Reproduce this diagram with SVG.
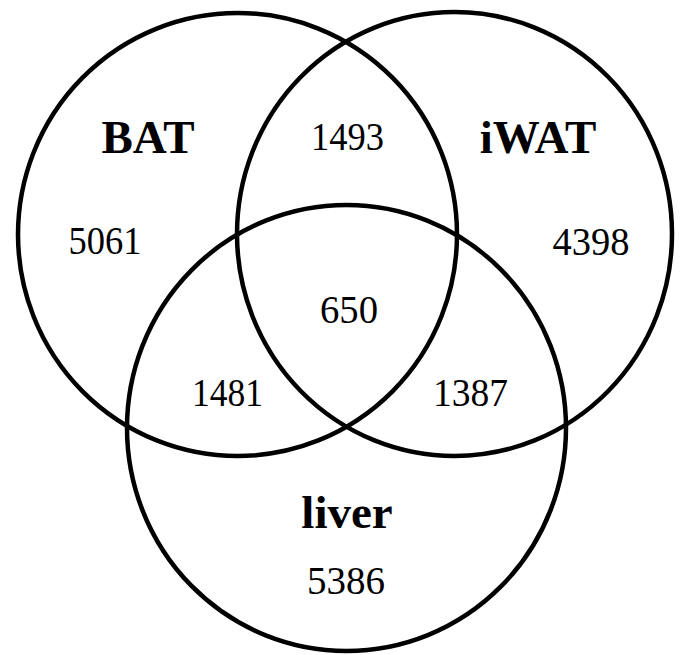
<svg xmlns="http://www.w3.org/2000/svg" width="681" height="655" viewBox="0 0 681 655">
<style>
.c{fill:none;stroke:#000;stroke-width:4.5}
.lbl{font-family:"Liberation Serif","Times New Roman",serif;font-weight:bold;font-size:47px;text-anchor:middle;fill:#000}
.num{font-family:"Liberation Serif","Times New Roman",serif;font-size:40px;text-anchor:middle;fill:#000}
</style>
<rect width="681" height="655" fill="#fff"/>
<g id="BAT">
<ellipse class="c" cx="237.5" cy="234.5" rx="219.5" ry="221.5"/>
<text class="lbl" x="148" y="153">BAT</text>
<text class="num" x="105" y="254" textLength="73" lengthAdjust="spacingAndGlyphs">5061</text>
</g>
<g id="iWAT">
<ellipse class="c" cx="454.5" cy="234" rx="217.5" ry="222"/>
<text class="lbl" x="538" y="153">iWAT</text>
<text class="num" x="591" y="255" textLength="77" lengthAdjust="spacingAndGlyphs">4398</text>
</g>
<g id="liver">
<ellipse class="c" cx="346.5" cy="428" rx="219.5" ry="223"/>
<text class="lbl" x="347" y="528">liver</text>
<text class="num" x="346" y="594" textLength="78" lengthAdjust="spacingAndGlyphs">5386</text>
</g>
<g id="overlaps">
<text class="num" x="347.5" y="150" textLength="73" lengthAdjust="spacingAndGlyphs">1493</text>
<text class="num" x="349" y="323" textLength="58" lengthAdjust="spacingAndGlyphs">650</text>
<text class="num" x="227.5" y="406" textLength="71" lengthAdjust="spacingAndGlyphs">1481</text>
<text class="num" x="470.5" y="406" textLength="75" lengthAdjust="spacingAndGlyphs">1387</text>
</g>
<g id="connectors"/>
</svg>
